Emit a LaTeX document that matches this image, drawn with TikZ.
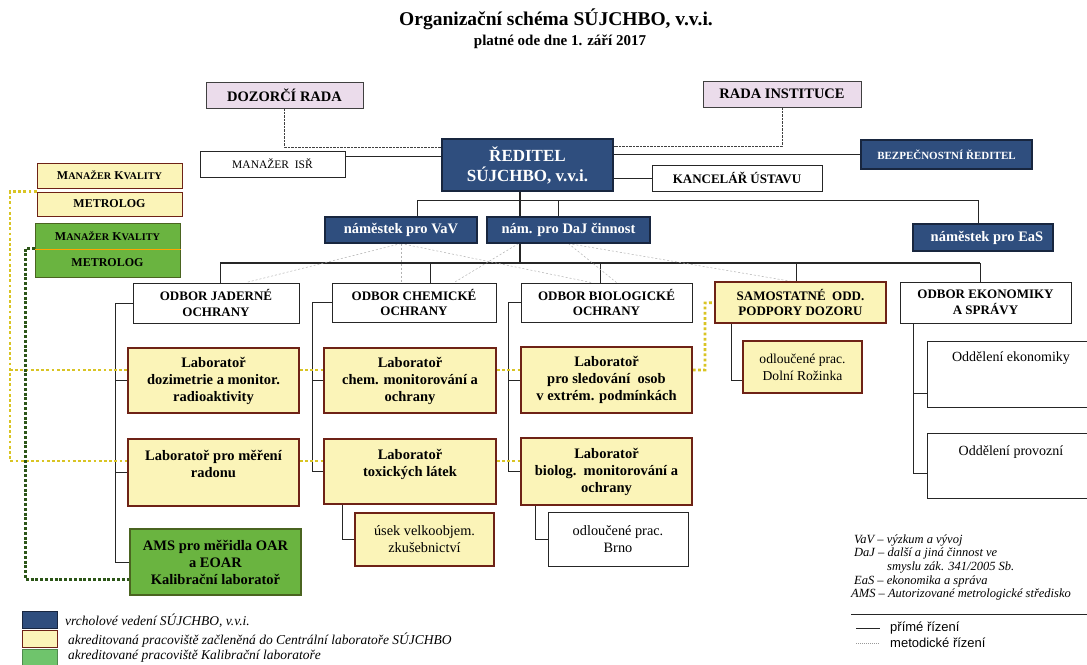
\documentclass[tikz,border=0pt]{standalone}
\usepackage{fontspec}
\setmainfont{Liberation Serif}
\newfontfamily\legsans{Liberation Sans}
\usetikzlibrary{calc}
\pgfdeclarelayer{bg}
\pgfsetlayers{bg,main}
\newcommand\myfs[2]{\fontsize{#1pt}{#2pt}\selectfont}
\newcommand\mysc[2]{#1{\fontsize{10.2pt}{12pt}\selectfont #2}}
\definecolor{vblue}{HTML}{2F4E7E}
\definecolor{vblueb}{HTML}{18263F}
\definecolor{lyel}{HTML}{FBF4B8}
\definecolor{lred}{HTML}{6E2216}
\definecolor{lgreen}{HTML}{6AB440}
\definecolor{lgreenL}{HTML}{6FC46C}
\definecolor{lgreenb}{HTML}{4A6420}
\definecolor{lav}{HTML}{EBDCEB}
\definecolor{ydotc}{HTML}{D9C424}
\definecolor{gdotc}{HTML}{2C5518}
\tikzset{
  wh/.style 2 args={minimum width=#1pt,minimum height=#2pt},
  box/.style={rectangle,inner sep=0pt,align=center,text=black},
  whitebox/.style={box,draw=black!85,line width=0.9pt,fill=white,font=\myfs{13}{15.5}\bfseries},
  lavbox/.style={box,draw=black!75,line width=0.9pt,fill=lav,font=\myfs{14.5}{16}\bfseries},
  bluebox/.style={box,draw=vblueb,line width=1.1pt,fill=vblue,text=white,font=\myfs{14.5}{16}\bfseries},
  yelbox/.style={box,draw=lred,line width=1.6pt,fill=lyel,font=\myfs{13}{15.5}\bfseries},
  labbox/.style={yelbox,font=\myfs{14.5}{17}\bfseries},
  greenbox/.style={box,draw=lgreenb,line width=1.2pt,fill=lgreen,font=\myfs{14.5}{17}\bfseries},
  smallbox/.style={box,line width=1pt,font=\myfs{12}{13}\bfseries},
  conn/.style={draw=black!85,line width=0.8pt},
  bus/.style={draw=black!85,line width=1.5pt},
  meth/.style={draw=black!75,line width=0.9pt,dash pattern=on 2.5pt off 1pt},
  faint/.style={draw=black!30,line width=0.5pt,dash pattern=on 2pt off 2pt},
  ydots/.style={draw=ydotc,line width=2.8pt,dash pattern=on 2.8pt off 2.4pt},
  gdots/.style={draw=gdotc,line width=3pt,dash pattern=on 3pt off 1.8pt},
  legtext/.style={anchor=west,inner sep=0pt,font=\myfs{13.5}{14}\itshape},
  rlegtext/.style={anchor=west,inner sep=0pt,font=\myfs{12.5}{13}\itshape},
}
\begin{document}
\begin{tikzpicture}[x=1pt,y=-1pt]
\useasboundingbox (0,0) rectangle (1087,664);
\clip (0,0) rectangle (1087,664);
\begin{pgfonlayer}{bg}
\fill[white] (0,0) rectangle (1087,664);
\end{pgfonlayer}

% title
\node[font=\myfs{19.5}{22}\bfseries] (title) at (556,19) {Organizační schéma SÚJCHBO, v.v.i.};
\node[font=\myfs{15}{17}\bfseries] (subtitle) at (560,42) {platné ode dne 1. září 2017};

% top level
\node[lavbox,wh={157}{26}] (dozorci) at (284.5,95) {DOZORČÍ RADA};
\node[lavbox,wh={158}{26}] (rada) at (782,94) {RADA INSTITUCE};
\node[whitebox,wh={145}{26},font=\myfs{11.5}{13}] (isr) at (272.5,164) {MANAŽER\ \ ISŘ};
\node[bluebox,wh={171}{52},font=\myfs{17}{20}\bfseries] (reditel) at (527.5,165) {ŘEDITEL\\SÚJCHBO, v.v.i.};
\node[whitebox,wh={170}{26},font=\myfs{13}{15}\bfseries] (kancelar) at (737,178) {KANCELÁŘ ÚSTAVU};
\node[bluebox,wh={171}{29},font=\myfs{11}{12}\bfseries] (bezp) at (946.5,154.5) {BEZPEČNOSTNÍ ŘEDITEL};
\node[bluebox,wh={152}{26}] (vav) at (401,230) {náměstek pro VaV};
\node[bluebox,wh={163}{26}] (daj) at (568.5,230) {nám. pro DaJ činnost};
\node[bluebox,wh={140}{27}] (eas) at (983,237.5) {\hspace*{8pt}náměstek pro EaS};

% odbory
\node[whitebox,wh={166}{40}] (jad) at (216,303) {ODBOR JADERNÉ\\OCHRANY};
\node[whitebox,wh={164}{39}] (chem) at (414,302.5) {ODBOR CHEMICKÉ\\OCHRANY};
\node[whitebox,wh={171}{39}] (bio) at (606.5,302.5) {ODBOR BIOLOGICKÉ\\OCHRANY};
\node[yelbox,wh={171}{41}] (sam) at (800.5,302.5) {SAMOSTATNÉ\ \ ODD.\\PODPORY DOZORU};
\node[whitebox,wh={171}{41}] (eko) at (985.5,302.5) {ODBOR EKONOMIKY\\A SPRÁVY};

% laboratories
\node[labbox,wh={171}{65}] (lab1) at (213.5,380.5) {Laboratoř\\dozimetrie a monitor.\\radioaktivity};
\node[labbox,wh={171}{67}] (lab2) at (213.5,472.5) {Laboratoř pro měření\\radonu\\\mbox{}};
\node[greenbox,wh={171}{66}] (ams) at (215.5,562) {AMS pro měřidla OAR\\a EOAR\\Kalibrační laboratoř};
\node[labbox,wh={172}{65}] (lab3) at (410,380.5) {Laboratoř\\chem. monitorování a\\ochrany};
\node[labbox,wh={172}{65}] (lab4) at (410,471.5) {Laboratoř\\toxických látek\\\mbox{}};
\node[labbox,wh={139}{53},font=\myfs{14.3}{17}] (usek) at (424.5,539.5) {úsek velkoobjem.\\zkušebnictví};
\node[labbox,wh={171}{66}] (lab5) at (606.5,380) {Laboratoř\\pro sledování\ \ osob\\v extrém. podmínkách};
\node[labbox,wh={171}{67}] (lab6) at (606.5,471.5) {Laboratoř\\biolog.\ \ monitorování a\\ochrany};
\node[whitebox,wh={140}{54},font=\myfs{14.3}{17}] (brno) at (618,539) {odloučené prac.\\Brno};
\node[labbox,wh={119}{52},font=\myfs{13.6}{17}] (rozinka) at (802.5,367) {odloučené prac.\\Dolní Rožinka};
\node[whitebox,wh={173}{66}] (oek) at (1013.5,374) {};
\node[font=\myfs{14}{16}] (oektext) at (1011,358) {Oddělení ekonomiky};
\node[whitebox,wh={173}{65}] (oprov) at (1013.5,465.5) {};
\node[font=\myfs{14}{16}] (oprovtext) at (1011,452) {Oddělení provozní};

% left boxes
\node[smallbox,draw=lred,fill=lyel,wh={145}{25}] (mk1) at (109.5,175.5) {\mysc{M}{ANAŽER} \mysc{K}{VALITY}};
\node[smallbox,draw=lred,fill=lyel,wh={145}{24}] (met1) at (109.5,204) {METROLOG};
\node[smallbox,draw=lgreenb,fill=lgreen,wh={145}{26}] (mk2) at (107.5,236) {\mysc{M}{ANAŽER} \mysc{K}{VALITY}};
\node[smallbox,draw=lgreenb,fill=lgreen,wh={145}{28}] (met2) at (107.5,263) {METROLOG};
\draw[draw=orange!70!yellow,line width=1pt] (mk2.south west) -- (mk2.south east);

% coordinates
\coordinate (b1L) at (417,200);
\coordinate (b1M) at (558,200);
\coordinate (b1R) at (978,200);
\coordinate (rx) at (520,263);
\coordinate (busL) at (220,263);
\coordinate (busC) at (430,263);
\coordinate (busB) at (600,263);
\coordinate (busS) at (796,263);
\coordinate (busR) at (980,263);
\coordinate (m1) at (0,147);
\coordinate (m2) at (0,146);
\coordinate (i1) at (0,156);
\coordinate (jx) at (115,0);
\coordinate (cx) at (312,0);
\coordinate (bx) at (508,0);
\coordinate (ex) at (913,0);
\coordinate (ux) at (342,0);
\coordinate (bx2) at (535,0);
\coordinate (sx) at (731,0);
\coordinate (ry) at (0,380);
\coordinate (ey1) at (0,393);
\coordinate (ey2) at (0,473);
\coordinate (yA) at (10,370);
\coordinate (yB) at (10,461);
\coordinate (ys) at (705,303);
\coordinate (gA) at (25,579);

\begin{pgfonlayer}{bg}
% methodical lines from boards
\draw[meth] (dozorci.south) |- (reditel.west |- m1);
\draw[meth] (rada.south) |- (reditel.east |- m2);
% direct lines
\draw[conn] (isr.east |- i1) -- (reditel.west |- i1);
\draw[conn] (reditel.east |- kancelar.west) -- (kancelar.west);
\draw[conn] (reditel.east |- bezp.west) -- (bezp.west);
\draw[conn] (vav.north -| b1L) |- (b1R) -- (eas.north -| b1R);
\draw[conn] (daj.north -| b1M) -- (b1M);
\draw[bus] (reditel.south -| rx) -- (rx);
\draw[bus] (busL) -- (busR);
\draw[conn] (busL) -- (jad.north -| busL);
\draw[conn] (busC) -- (chem.north -| busC);
\draw[conn] (busB) -- (bio.north -| busB);
\draw[conn] (busS) -- (sam.north -| busS);
\draw[conn] (busR) -- (eko.north -| busR);
% faint methodical lines
\draw[faint] (vav.south) -- ($(jad.north)+(30,0)$);
\draw[faint] (vav.south) -- (vav.south |- chem.north);
\draw[faint] (vav.south) -- ($(bio.north)+(-15,0)$);
\draw[faint] ($(daj.south)+(-50,0)$) -- ($(chem.north)+(40,0)$);
\draw[faint] (daj.south) -- ($(sam.north)+(-10,0)$);
\draw[faint] (daj.south) -- ($(bio.north)+(10,0)$);
% odbor branches
\draw[conn] (jad.west) -| (jx |- ams.west) -- (ams.west);
\draw[conn] (jx |- lab1.west) -- (lab1.west);
\draw[conn] (jx |- lab2.west) -- (lab2.west);
\draw[conn] (chem.west) -| (cx |- lab4.west) -- (lab4.west);
\draw[conn] (cx |- lab3.west) -- (lab3.west);
\draw[conn] (bio.west) -| (bx |- lab6.west) -- (lab6.west);
\draw[conn] (bx |- lab5.west) -- (lab5.west);
\draw[conn] (lab4.south -| ux) |- (usek.west);
\draw[conn] (lab6.south -| bx2) |- (brno.west);
\draw[conn] (sam.south -| sx) |- (rozinka.west |- ry);
\draw[conn] (eko.south -| ex) |- (oprov.west |- ey2);
\draw[conn] (ex |- ey1) -- (oek.west |- ey1);
% yellow dotted
\draw[ydots] (met1.north west) -| (yB) -- (lab2.west |- yB);
\draw[ydots] (yA) -- (lab1.west |- yA);
\draw[ydots] (lab1.east |- yA) -- (lab3.west |- yA);
\draw[ydots] (lab3.east |- yA) -- (lab5.west |- yA);
\draw[ydots] (lab5.east |- yA) -| (ys) -- (sam.west);
\draw[ydots] (lab2.east |- yB) -- (lab4.west |- yB);
\draw[ydots] (lab4.east |- yB) -- (lab6.west |- yB);
% green dotted
\draw[gdots] (met2.north west) -| (gA) -- (ams.west |- gA);
\end{pgfonlayer}

% legend left
\node[box,draw=vblueb,line width=1pt,fill=vblue,wh={35}{17}] (lg1) at (39.5,619.5) {};
\node[box,draw=lred,line width=1pt,fill=lyel,wh={35}{17}] (lg2) at (39.5,638.5) {};
\node[box,draw=lgreenL!70!black,line width=0.6pt,fill=lgreenL,wh={35}{17}] (lg3) at (39.5,657.5) {};
\node[legtext] (lt1) at (65,621) {vrcholové vedení SÚJCHBO, v.v.i.};
\node[legtext] (lt2) at (68,640) {akreditovaná pracoviště začleněná do Centrální laboratoře SÚJCHBO};
\node[legtext] (lt3) at (68,656) {akreditované pracoviště Kalibrační laboratoře};

% legend right
\node[rlegtext] (r1) at (854,540) {VaV – výzkum a vývoj};
\node[rlegtext] (r2) at (854,553) {DaJ – další a jiná činnost ve};
\node[rlegtext] (r3) at (887,567) {smyslu zák. 341/2005 Sb.};
\node[rlegtext] (r4) at (854,581) {EaS – ekonomika a správa};
\node[rlegtext] (r5) at (851,594) {AMS – Autorizované metrologické středisko};
\coordinate (rl1) at (851,614);
\coordinate (rl2) at (1087,614);
\draw[line width=1pt,black!85] (rl1) -- (rl2);
\coordinate (s1a) at (856,628);
\coordinate (s1b) at (880,628);
\coordinate (s2a) at (856,643);
\coordinate (s2b) at (880,643);
\draw[line width=1pt,black!85] (s1a) -- (s1b);
\draw[draw=black!40,line width=0.5pt,dash pattern=on 1pt off 1pt] (s2a) -- (s2b);
\node[anchor=west,inner sep=0pt,font=\legsans\myfs{13}{14}] (p1) at (890,628) {přímé řízení};
\node[anchor=west,inner sep=0pt,font=\legsans\myfs{13}{14}] (p2) at (890,643) {metodické řízení};
\end{tikzpicture}
\end{document}
